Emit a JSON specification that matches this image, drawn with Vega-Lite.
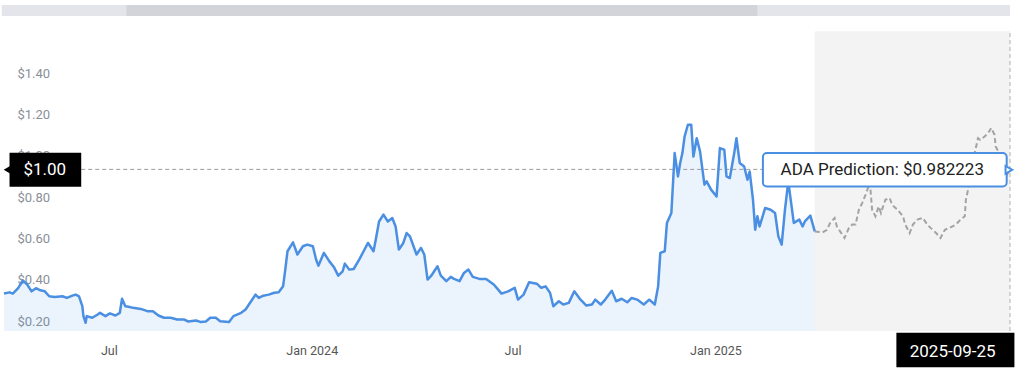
{
  "$schema": "https://vega.github.io/schema/vega-lite/v6.json",
  "width": 1006,
  "height": 248,
  "autosize": {"type": "none"},
  "padding": {"left": 4, "top": 83, "right": 14, "bottom": 45},
  "background": "white",
  "config": {"view": {"stroke": null}, "font": "Roboto"},
  "datasets": {
    "actual": [
      {"date": "2023-03-28", "price": 0.381}, {"date": "2023-04-02", "price": 0.387}, {"date": "2023-04-05", "price": 0.381},
      {"date": "2023-04-10", "price": 0.409}, {"date": "2023-04-14", "price": 0.445}, {"date": "2023-04-18", "price": 0.425},
      {"date": "2023-04-22", "price": 0.392}, {"date": "2023-04-26", "price": 0.407}, {"date": "2023-04-30", "price": 0.397},
      {"date": "2023-05-04", "price": 0.392}, {"date": "2023-05-08", "price": 0.368}, {"date": "2023-05-13", "price": 0.365},
      {"date": "2023-05-20", "price": 0.368}, {"date": "2023-05-24", "price": 0.36}, {"date": "2023-05-29", "price": 0.371},
      {"date": "2023-06-01", "price": 0.376}, {"date": "2023-06-04", "price": 0.368}, {"date": "2023-06-07", "price": 0.32},
      {"date": "2023-06-08", "price": 0.272}, {"date": "2023-06-10", "price": 0.24}, {"date": "2023-06-11", "price": 0.272},
      {"date": "2023-06-16", "price": 0.264}, {"date": "2023-06-21", "price": 0.28}, {"date": "2023-06-23", "price": 0.288},
      {"date": "2023-06-28", "price": 0.272}, {"date": "2023-07-02", "price": 0.285}, {"date": "2023-07-07", "price": 0.275},
      {"date": "2023-07-11", "price": 0.288}, {"date": "2023-07-13", "price": 0.356}, {"date": "2023-07-16", "price": 0.32},
      {"date": "2023-07-19", "price": 0.317}, {"date": "2023-07-23", "price": 0.312}, {"date": "2023-07-30", "price": 0.307},
      {"date": "2023-08-05", "price": 0.296}, {"date": "2023-08-10", "price": 0.296}, {"date": "2023-08-15", "price": 0.275},
      {"date": "2023-08-20", "price": 0.264}, {"date": "2023-08-26", "price": 0.264}, {"date": "2023-09-01", "price": 0.256},
      {"date": "2023-09-07", "price": 0.256}, {"date": "2023-09-11", "price": 0.246}, {"date": "2023-09-18", "price": 0.251},
      {"date": "2023-09-22", "price": 0.244}, {"date": "2023-09-27", "price": 0.246}, {"date": "2023-10-01", "price": 0.264},
      {"date": "2023-10-06", "price": 0.264}, {"date": "2023-10-10", "price": 0.247}, {"date": "2023-10-18", "price": 0.243},
      {"date": "2023-10-22", "price": 0.272}, {"date": "2023-10-29", "price": 0.288}, {"date": "2023-11-02", "price": 0.304},
      {"date": "2023-11-07", "price": 0.344}, {"date": "2023-11-11", "price": 0.376}, {"date": "2023-11-14", "price": 0.36},
      {"date": "2023-11-18", "price": 0.371}, {"date": "2023-11-23", "price": 0.376}, {"date": "2023-11-28", "price": 0.385},
      {"date": "2023-12-02", "price": 0.387}, {"date": "2023-12-06", "price": 0.416}, {"date": "2023-12-08", "price": 0.497},
      {"date": "2023-12-10", "price": 0.586}, {"date": "2023-12-15", "price": 0.629}, {"date": "2023-12-19", "price": 0.57},
      {"date": "2023-12-24", "price": 0.61}, {"date": "2023-12-28", "price": 0.618}, {"date": "2024-01-02", "price": 0.61},
      {"date": "2024-01-05", "price": 0.545}, {"date": "2024-01-07", "price": 0.516}, {"date": "2024-01-12", "price": 0.578},
      {"date": "2024-01-17", "price": 0.537}, {"date": "2024-01-21", "price": 0.51}, {"date": "2024-01-25", "price": 0.468},
      {"date": "2024-01-29", "price": 0.489}, {"date": "2024-01-31", "price": 0.526}, {"date": "2024-02-04", "price": 0.497},
      {"date": "2024-02-08", "price": 0.5}, {"date": "2024-02-13", "price": 0.545}, {"date": "2024-02-17", "price": 0.586},
      {"date": "2024-02-21", "price": 0.626}, {"date": "2024-02-26", "price": 0.586}, {"date": "2024-02-28", "price": 0.642},
      {"date": "2024-03-02", "price": 0.73}, {"date": "2024-03-06", "price": 0.763}, {"date": "2024-03-10", "price": 0.73},
      {"date": "2024-03-14", "price": 0.747}, {"date": "2024-03-17", "price": 0.706}, {"date": "2024-03-20", "price": 0.594},
      {"date": "2024-03-24", "price": 0.626}, {"date": "2024-03-27", "price": 0.674}, {"date": "2024-03-30", "price": 0.658},
      {"date": "2024-04-05", "price": 0.57}, {"date": "2024-04-09", "price": 0.602}, {"date": "2024-04-12", "price": 0.57},
      {"date": "2024-04-15", "price": 0.449}, {"date": "2024-04-18", "price": 0.465}, {"date": "2024-04-21", "price": 0.489},
      {"date": "2024-04-24", "price": 0.513}, {"date": "2024-04-27", "price": 0.468}, {"date": "2024-05-02", "price": 0.441},
      {"date": "2024-05-06", "price": 0.462}, {"date": "2024-05-09", "price": 0.452}, {"date": "2024-05-14", "price": 0.441},
      {"date": "2024-05-18", "price": 0.481}, {"date": "2024-05-22", "price": 0.497}, {"date": "2024-05-26", "price": 0.462},
      {"date": "2024-06-01", "price": 0.452}, {"date": "2024-06-07", "price": 0.452}, {"date": "2024-06-14", "price": 0.425},
      {"date": "2024-06-18", "price": 0.4}, {"date": "2024-06-21", "price": 0.381}, {"date": "2024-06-27", "price": 0.392},
      {"date": "2024-07-03", "price": 0.409}, {"date": "2024-07-06", "price": 0.352}, {"date": "2024-07-11", "price": 0.376},
      {"date": "2024-07-16", "price": 0.436}, {"date": "2024-07-23", "price": 0.429}, {"date": "2024-07-27", "price": 0.409},
      {"date": "2024-07-31", "price": 0.416}, {"date": "2024-08-04", "price": 0.385}, {"date": "2024-08-07", "price": 0.32},
      {"date": "2024-08-12", "price": 0.344}, {"date": "2024-08-16", "price": 0.328}, {"date": "2024-08-21", "price": 0.336},
      {"date": "2024-08-26", "price": 0.392}, {"date": "2024-08-31", "price": 0.356}, {"date": "2024-09-06", "price": 0.323},
      {"date": "2024-09-11", "price": 0.328}, {"date": "2024-09-14", "price": 0.352}, {"date": "2024-09-19", "price": 0.328},
      {"date": "2024-09-23", "price": 0.352}, {"date": "2024-09-29", "price": 0.395}, {"date": "2024-10-03", "price": 0.344},
      {"date": "2024-10-08", "price": 0.356}, {"date": "2024-10-13", "price": 0.339}, {"date": "2024-10-17", "price": 0.36},
      {"date": "2024-10-22", "price": 0.352}, {"date": "2024-10-28", "price": 0.328}, {"date": "2024-11-02", "price": 0.352},
      {"date": "2024-11-07", "price": 0.328}, {"date": "2024-11-10", "price": 0.416}, {"date": "2024-11-12", "price": 0.578},
      {"date": "2024-11-16", "price": 0.586}, {"date": "2024-11-18", "price": 0.723}, {"date": "2024-11-22", "price": 0.771},
      {"date": "2024-11-23", "price": 0.868}, {"date": "2024-11-25", "price": 1.061}, {"date": "2024-11-28", "price": 0.948},
      {"date": "2024-11-30", "price": 1.013}, {"date": "2024-12-02", "price": 1.061}, {"date": "2024-12-04", "price": 1.141},
      {"date": "2024-12-07", "price": 1.198}, {"date": "2024-12-10", "price": 1.198}, {"date": "2024-12-12", "price": 1.044},
      {"date": "2024-12-15", "price": 1.133}, {"date": "2024-12-18", "price": 1.069}, {"date": "2024-12-22", "price": 0.908},
      {"date": "2024-12-24", "price": 0.924}, {"date": "2024-12-28", "price": 0.884}, {"date": "2025-01-02", "price": 0.851},
      {"date": "2025-01-05", "price": 1.085}, {"date": "2025-01-09", "price": 1.077}, {"date": "2025-01-11", "price": 0.948},
      {"date": "2025-01-14", "price": 0.94}, {"date": "2025-01-18", "price": 1.061}, {"date": "2025-01-20", "price": 1.133},
      {"date": "2025-01-23", "price": 1.013}, {"date": "2025-01-27", "price": 0.996}, {"date": "2025-01-30", "price": 0.932},
      {"date": "2025-02-01", "price": 0.972}, {"date": "2025-02-04", "price": 0.835}, {"date": "2025-02-06", "price": 0.69},
      {"date": "2025-02-08", "price": 0.755}, {"date": "2025-02-10", "price": 0.706}, {"date": "2025-02-15", "price": 0.795},
      {"date": "2025-02-20", "price": 0.787}, {"date": "2025-02-24", "price": 0.771}, {"date": "2025-02-27", "price": 0.658},
      {"date": "2025-03-02", "price": 0.618}, {"date": "2025-03-05", "price": 0.787}, {"date": "2025-03-08", "price": 0.924},
      {"date": "2025-03-10", "price": 0.843}, {"date": "2025-03-13", "price": 0.723}, {"date": "2025-03-18", "price": 0.739},
      {"date": "2025-03-21", "price": 0.706}, {"date": "2025-03-23", "price": 0.73}, {"date": "2025-03-28", "price": 0.758},
      {"date": "2025-04-01", "price": 0.682}
    ],
    "prediction": [
      {"date": "2025-04-01", "price": 0.682}, {"date": "2025-04-08", "price": 0.677}, {"date": "2025-04-12", "price": 0.69},
      {"date": "2025-04-15", "price": 0.723}, {"date": "2025-04-19", "price": 0.747}, {"date": "2025-04-21", "price": 0.706},
      {"date": "2025-04-24", "price": 0.682}, {"date": "2025-04-28", "price": 0.65}, {"date": "2025-05-02", "price": 0.699},
      {"date": "2025-05-05", "price": 0.715}, {"date": "2025-05-08", "price": 0.715}, {"date": "2025-05-11", "price": 0.787},
      {"date": "2025-05-14", "price": 0.819}, {"date": "2025-05-17", "price": 0.859}, {"date": "2025-05-21", "price": 0.917},
      {"date": "2025-05-23", "price": 0.787}, {"date": "2025-05-26", "price": 0.755}, {"date": "2025-05-29", "price": 0.803},
      {"date": "2025-05-31", "price": 0.771}, {"date": "2025-06-04", "price": 0.835}, {"date": "2025-06-08", "price": 0.843},
      {"date": "2025-06-10", "price": 0.811}, {"date": "2025-06-15", "price": 0.787}, {"date": "2025-06-20", "price": 0.755},
      {"date": "2025-06-22", "price": 0.715}, {"date": "2025-06-26", "price": 0.674}, {"date": "2025-06-29", "price": 0.715},
      {"date": "2025-07-03", "price": 0.739}, {"date": "2025-07-08", "price": 0.747}, {"date": "2025-07-12", "price": 0.715},
      {"date": "2025-07-15", "price": 0.699}, {"date": "2025-07-20", "price": 0.674}, {"date": "2025-07-24", "price": 0.65},
      {"date": "2025-07-28", "price": 0.69}, {"date": "2025-08-01", "price": 0.699}, {"date": "2025-08-07", "price": 0.715},
      {"date": "2025-08-11", "price": 0.739}, {"date": "2025-08-15", "price": 0.755}, {"date": "2025-08-16", "price": 0.835},
      {"date": "2025-08-18", "price": 0.884}, {"date": "2025-08-20", "price": 0.964}, {"date": "2025-08-24", "price": 1.061},
      {"date": "2025-08-27", "price": 1.133}, {"date": "2025-08-29", "price": 1.125}, {"date": "2025-09-02", "price": 1.141},
      {"date": "2025-09-05", "price": 1.157}, {"date": "2025-09-08", "price": 1.182}, {"date": "2025-09-11", "price": 1.149},
      {"date": "2025-09-12", "price": 1.093}, {"date": "2025-09-16", "price": 1.053}, {"date": "2025-09-18", "price": 1.004},
      {"date": "2025-09-21", "price": 0.948}, {"date": "2025-09-23", "price": 0.964}, {"date": "2025-09-25", "price": 0.982223}
    ]
  },
  "layer": [
    {
      "data": {"values": [{}]},
      "mark": {"type": "rect", "color": "#e4e5ea"},
      "encoding": {
        "x": {"datum": {"year": 2023, "month": 3, "date": 26}, "type": "temporal",
          "scale": {"domain": [{"year": 2023, "month": 3, "date": 28}, {"year": 2025, "month": 9, "date": 25}]},
          "axis": {
            "title": null, "domain": false, "ticks": false, "grid": false,
            "values": [{"year": 2023, "month": 7, "date": 1}, {"year": 2024, "month": 1, "date": 1}, {"year": 2024, "month": 7, "date": 1}, {"year": 2025, "month": 1, "date": 1}],
            "labelExpr": "month(datum.value) == 0 ? timeFormat(datum.value, '%b %Y') : timeFormat(datum.value, '%b')",
            "labelFontSize": 12.5, "labelColor": "#555555", "labelPadding": 13, "labelFont": "Roboto"
          }},
        "x2": {"datum": {"year": 2025, "month": 9, "date": 25}},
        "y": {"datum": 1.724, "type": "quantitative",
          "scale": {"domain": [0.2, 1.4], "zero": false, "nice": false},
          "axis": {
            "title": null, "domain": false, "ticks": false,
            "values": [0.2, 0.4, 0.6, 0.8, 1.0, 1.2, 1.4],
            "format": "$.2f", "labelAlign": "left", "labelBaseline": "bottom",
            "labelPadding": -13, "labelOffset": -3, "labelFontSize": 13, "labelColor": "#8a8f99",
            "labelFont": "Roboto", "gridColor": "#eeeeee", "gridWidth": 1, "labelOverlap": false
          }},
        "y2": {"datum": 1.777}
      }
    },
    {
      "data": {"values": [{}]},
      "mark": {"type": "rect", "color": "#d3d4d9"},
      "encoding": {
        "x": {"datum": {"year": 2023, "month": 7, "date": 17}, "type": "temporal"},
        "x2": {"datum": {"year": 2025, "month": 2, "date": 8}},
        "y": {"datum": 1.724, "type": "quantitative"},
        "y2": {"datum": 1.777}
      }
    },
    {
      "data": {"values": [{}]},
      "mark": {"type": "rect", "color": "#9a9a9a", "opacity": 0.12},
      "encoding": {
        "x": {"datum": {"year": 2025, "month": 4, "date": 1}, "type": "temporal"},
        "x2": {"datum": {"year": 2025, "month": 9, "date": 25}},
        "y": {"datum": 0.2, "type": "quantitative"},
        "y2": {"datum": 1.65}
      }
    },
    {
      "data": {"name": "actual"},
      "mark": {"type": "area", "color": "#4a8fe2", "opacity": 0.11, "interpolate": "linear"},
      "encoding": {
        "x": {"field": "date", "type": "temporal"},
        "y": {"field": "price", "type": "quantitative"},
        "y2": {"datum": 0.2}
      }
    },
    {
      "data": {"values": [{}]},
      "mark": {"type": "rule", "color": "#9a9a9a", "strokeDash": [4, 3], "strokeWidth": 1},
      "encoding": {
        "x": {"datum": {"year": 2023, "month": 6, "date": 6}, "type": "temporal"},
        "x2": {"datum": {"year": 2025, "month": 2, "date": 13}},
        "y": {"datum": 0.982, "type": "quantitative"}
      }
    },
    {
      "data": {"name": "actual"},
      "mark": {"type": "line", "color": "#4a8fe2", "strokeWidth": 2.5, "strokeJoin": "round"},
      "encoding": {
        "x": {"field": "date", "type": "temporal"},
        "y": {"field": "price", "type": "quantitative"}
      }
    },
    {
      "data": {"name": "prediction"},
      "mark": {"type": "line", "color": "#a3a3a3", "strokeWidth": 2, "strokeDash": [5, 3]},
      "encoding": {
        "x": {"field": "date", "type": "temporal"},
        "y": {"field": "price", "type": "quantitative"}
      }
    },
    {
      "data": {"values": [{}]},
      "mark": {"type": "rule", "color": "#b0b0b0", "strokeDash": [4, 3], "strokeWidth": 1},
      "encoding": {
        "x": {"datum": {"year": 2025, "month": 9, "date": 25}, "type": "temporal"},
        "y": {"datum": 0.2, "type": "quantitative"},
        "y2": {"datum": 1.65}
      }
    },
    {
      "data": {"values": [{}]},
      "mark": {"type": "rect", "color": "#000000"},
      "encoding": {
        "x": {"datum": {"year": 2023, "month": 4, "date": 2}, "type": "temporal"},
        "x2": {"datum": {"year": 2023, "month": 6, "date": 6}},
        "y": {"datum": 0.898, "type": "quantitative"},
        "y2": {"datum": 1.062}
      }
    },
    {
      "data": {"values": [{}]},
      "mark": {"type": "point", "shape": "triangle-left", "filled": true, "color": "#000000", "size": 70, "opacity": 1},
      "encoding": {
        "x": {"datum": {"year": 2023, "month": 3, "date": 31}, "type": "temporal"},
        "y": {"datum": 0.98, "type": "quantitative"}
      }
    },
    {
      "data": {"values": [{}]},
      "mark": {"type": "text", "text": "$1.00", "color": "#ffffff", "fontSize": 17, "font": "Roboto", "align": "center", "baseline": "middle"},
      "encoding": {
        "x": {"datum": {"year": 2023, "month": 5, "date": 4}, "type": "temporal"},
        "y": {"datum": 0.98, "type": "quantitative"}
      }
    },
    {
      "data": {"values": [{}]},
      "mark": {"type": "rect", "fill": "#ffffff", "stroke": "#4a8fe2", "strokeWidth": 2, "cornerRadius": 4},
      "encoding": {
        "x": {"datum": {"year": 2025, "month": 2, "date": 13}, "type": "temporal"},
        "x2": {"datum": {"year": 2025, "month": 9, "date": 22}},
        "y": {"datum": 0.8995, "type": "quantitative"},
        "y2": {"datum": 1.061}
      }
    },
    {
      "data": {"values": [{}]},
      "mark": {"type": "point", "shape": "triangle-right", "filled": true, "fill": "#ffffff", "stroke": "#4a8fe2", "strokeWidth": 2, "size": 60, "opacity": 1},
      "encoding": {
        "x": {"datum": {"year": 2025, "month": 9, "date": 24}, "type": "temporal"},
        "y": {"datum": 0.98, "type": "quantitative"}
      }
    },
    {
      "data": {"values": [{}]},
      "mark": {"type": "text", "text": "ADA Prediction: $0.982223", "color": "#222222", "fontSize": 17, "font": "Roboto", "align": "left", "baseline": "middle"},
      "encoding": {
        "x": {"datum": {"year": 2025, "month": 3, "date": 1}, "type": "temporal"},
        "y": {"datum": 0.98, "type": "quantitative"}
      }
    },
    {
      "data": {"values": [{}]},
      "mark": {"type": "rect", "color": "#000000"},
      "encoding": {
        "x": {"datum": {"year": 2025, "month": 6, "date": 14}, "type": "temporal"},
        "x2": {"datum": {"year": 2025, "month": 9, "date": 29}},
        "y": {"datum": 0.024, "type": "quantitative"},
        "y2": {"datum": 0.191}
      }
    },
    {
      "data": {"values": [{}]},
      "mark": {"type": "text", "text": "2025-09-25", "color": "#ffffff", "fontSize": 17, "font": "Roboto", "align": "center", "baseline": "middle"},
      "encoding": {
        "x": {"datum": {"year": 2025, "month": 8, "date": 4}, "type": "temporal"},
        "y": {"datum": 0.098, "type": "quantitative"}
      }
    }
  ]
}
